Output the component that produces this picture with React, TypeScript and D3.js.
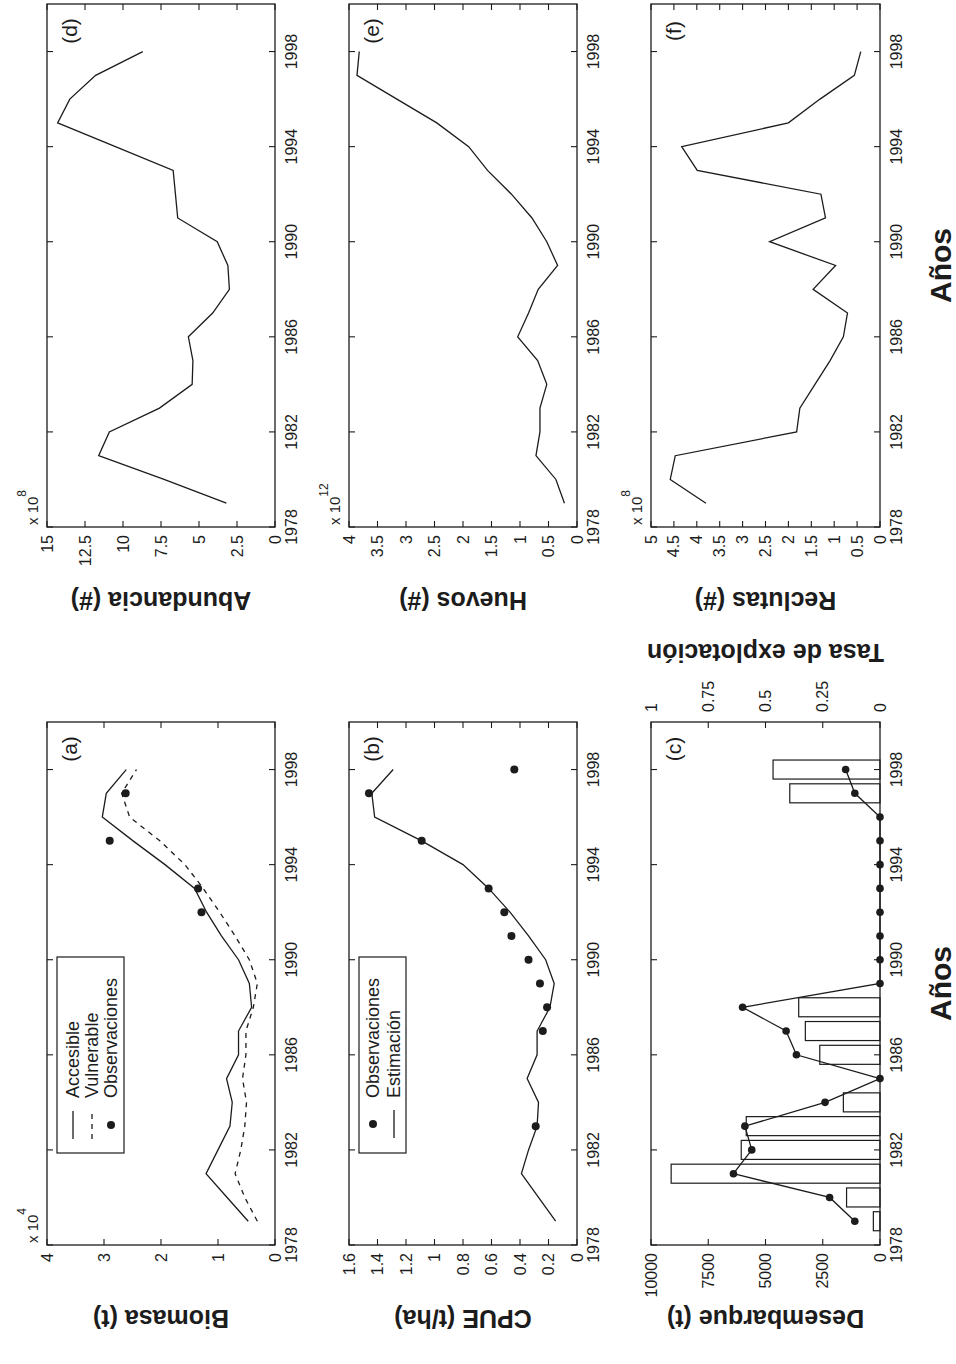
import React from "react";
import * as d3 from "d3";

// ---------------- data ----------------
const years = [1979, 1980, 1981, 1982, 1983, 1984, 1985, 1986, 1987, 1988, 1989, 1990, 1991, 1992, 1993, 1994, 1995, 1996, 1997, 1998];
const yearTicks = [1978, 1982, 1986, 1990, 1994, 1998];

// (a) Biomasa (x 10^4 t)
const biomasaAccesible = [0.47, 0.84, 1.21, 1.0, 0.79, 0.75, 0.85, 0.64, 0.64, 0.41, 0.45, 0.64, 0.94, 1.2, 1.41, 1.93, 2.49, 3.03, 2.96, 2.61];
const biomasaVulnerable = [0.31, 0.53, 0.7, 0.6, 0.53, 0.5, 0.57, 0.51, 0.51, 0.38, 0.31, 0.45, 0.7, 0.97, 1.26, 1.58, 2.02, 2.55, 2.69, 2.43];
const biomasaObsYears = [1992, 1993, 1995, 1997];
const biomasaObs = [1.29, 1.35, 2.9, 2.62];
const biomasaTicks = [0, 1, 2, 3, 4];

// (b) CPUE (t/ha)
const cpueEstimacion = [0.15, 0.27, 0.39, 0.34, 0.28, 0.27, 0.35, 0.28, 0.28, 0.19, 0.16, 0.22, 0.34, 0.47, 0.62, 0.8, 1.09, 1.42, 1.44, 1.29];
const cpueObsYears = [1983, 1987, 1988, 1989, 1990, 1991, 1992, 1993, 1995, 1997, 1998];
const cpueObs = [0.29, 0.24, 0.21, 0.26, 0.34, 0.46, 0.51, 0.62, 1.09, 1.46, 0.44];
const cpueTicks = [0, 0.2, 0.4, 0.6, 0.8, 1, 1.2, 1.4, 1.6];

// (c) Desembarque (t) and Tasa de explotación
const desembarque = [290, 1460, 9120, 6060, 5840, 1600, 0, 2630, 3260, 3550, 0, 0, 0, 0, 0, 0, 0, 0, 3940, 4670];
const tasaExplotacion = [0.11, 0.22, 0.64, 0.56, 0.59, 0.24, 0, 0.365, 0.41, 0.6, 0, 0, 0, 0, 0, 0, 0, 0, 0.11, 0.15];
const desembarqueTicks = [0, 2500, 5000, 7500, 10000];
const tasaTicks = [0, 0.25, 0.5, 0.75, 1];

// (d) Abundancia (x 10^8)
const abundancia = [3.2, 7.3, 11.6, 10.9, 7.6, 5.45, 5.4, 5.7, 4.1, 3.0, 3.1, 3.8, 6.4, 6.55, 6.7, 10.5, 14.3, 13.5, 11.8, 8.7];
const abundanciaTicks = [0, 2.5, 5, 7.5, 10, 12.5, 15];

// (e) Huevos (x 10^12)
const huevos = [0.22, 0.37, 0.72, 0.65, 0.65, 0.53, 0.69, 1.04, 0.85, 0.68, 0.34, 0.53, 0.79, 1.15, 1.57, 1.9, 2.46, 3.16, 3.86, 3.82];
const huevosTicks = [0, 0.5, 1, 1.5, 2, 2.5, 3, 3.5, 4];

// (f) Reclutas (x 10^8)
const reclutas = [3.8, 4.58, 4.47, 1.82, 1.75, 1.42, 1.09, 0.8, 0.71, 1.46, 0.97, 2.41, 1.19, 1.29, 3.99, 4.33, 2.0, 1.31, 0.56, 0.42];
const reclutasTicks = [0, 0.5, 1, 1.5, 2, 2.5, 3, 3.5, 4, 4.5, 5];

// ---------------- layout (unrotated figure) ----------------
const FIG_W = 1364;
const FONT = "'Liberation Sans', Arial, Helvetica, sans-serif";
const INK = "#1c1c1c";
const COLS: [number, number][] = [[119, 642], [837, 1360]];
const ROWS: [number, number][] = [[47, 275], [349, 577], [651, 880]];
const TICK = 6;

type Scales = { x: d3.ScaleLinear<number, number>; y: d3.ScaleLinear<number, number> };

function Frame(props: {
  col: number; row: number; yTicks: number[]; yMax: number; yLabel: string; tag: string; exp?: string;
  children: (s: Scales) => React.ReactNode;
}) {
  const [x0, x1] = COLS[props.col];
  const [y0, y1] = ROWS[props.row];
  const x = d3.scaleLinear().domain([1978, 2000]).range([x0, x1]);
  const y = d3.scaleLinear().domain([0, props.yMax]).range([y1, y0]);
  return (
    <g>
      {props.children({ x, y })}
      <rect x={x0} y={y0} width={x1 - x0} height={y1 - y0} fill="none" stroke={INK} strokeWidth={1.3} />
      {yearTicks.map((t) => (
        <g key={"xt" + t}>
          <line x1={x(t)} x2={x(t)} y1={y1} y2={y1 - TICK} stroke={INK} strokeWidth={1.1} />
          <line x1={x(t)} x2={x(t)} y1={y0} y2={y0 + TICK} stroke={INK} strokeWidth={1.1} />
          <text x={x(t)} y={y1 + 22} textAnchor="middle" fontSize={16} fontFamily={FONT} fill={INK}>{t}</text>
        </g>
      ))}
      {props.yTicks.map((t) => (
        <g key={"yt" + t}>
          <line x1={x0} x2={x0 + TICK} y1={y(t)} y2={y(t)} stroke={INK} strokeWidth={1.1} />
          <line x1={x1} x2={x1 - TICK} y1={y(t)} y2={y(t)} stroke={INK} strokeWidth={1.1} />
          <text x={x0 - 8} y={y(t)} textAnchor="end" dominantBaseline="central" fontSize={16} fontFamily={FONT} fill={INK}>{String(t)}</text>
        </g>
      ))}
      {props.exp && (
        <text x={x0 + 2} y={y0 - 9} fontSize={15} fontFamily={FONT} fill={INK}>
          x 10<tspan dy={-12} fontSize={12}>{props.exp}</tspan>
        </text>
      )}
      <text x={x1 - 27} y={y0 + 22} textAnchor="middle" dominantBaseline="central" fontSize={21} fontFamily={FONT} fill={INK}>{props.tag}</text>
      <text transform={`translate(${x0 - 74},${(y0 + y1) / 2}) rotate(-90)`} textAnchor="middle" dominantBaseline="central"
        fontSize={25} fontWeight="bold" fontFamily={FONT} fill={INK}>{props.yLabel}</text>
    </g>
  );
}

function seriesLine(s: Scales, vals: number[]) {
  const gen = d3.line<number>().x((_, i) => s.x(years[i])).y((v) => s.y(v));
  return gen(vals) || "";
}

export default function App() {
  const lw = 1.3;
  return (
    <svg width={956} height={1364} style={{ position: "absolute", left: 0, top: 0, background: "#fff" }}>
      <rect x={0} y={0} width={956} height={1364} fill="#fff" />
      <g transform={`translate(0,${FIG_W}) rotate(-90)`}>
        {/* (a) Biomasa */}
        <Frame col={0} row={0} yTicks={biomasaTicks} yMax={4} yLabel="Biomasa (t)" tag="(a)" exp="4">
          {(s) => (
            <g>
              <path d={seriesLine(s, biomasaAccesible)} fill="none" stroke={INK} strokeWidth={lw} />
              <path d={seriesLine(s, biomasaVulnerable)} fill="none" stroke={INK} strokeWidth={lw} strokeDasharray="5,5" />
              {biomasaObs.map((v, i) => (
                <circle key={i} cx={s.x(biomasaObsYears[i])} cy={s.y(v)} r={4} fill={INK} />
              ))}
              <rect x={211} y={57} width={196} height={67} fill="#fff" stroke={INK} strokeWidth={1.2} />
              <line x1={225} x2={253} y1={73} y2={73} stroke={INK} strokeWidth={lw} />
              <line x1={225} x2={253} y1={92} y2={92} stroke={INK} strokeWidth={lw} strokeDasharray="5,5" />
              <circle cx={239} cy={111} r={4} fill={INK} />
              <text x={266} y={73} dominantBaseline="central" fontSize={18} fontFamily={FONT} fill={INK}>Accesible</text>
              <text x={266} y={92} dominantBaseline="central" fontSize={18} fontFamily={FONT} fill={INK}>Vulnerable</text>
              <text x={266} y={111} dominantBaseline="central" fontSize={18} fontFamily={FONT} fill={INK}>Observaciones</text>
            </g>
          )}
        </Frame>

        {/* (b) CPUE */}
        <Frame col={0} row={1} yTicks={cpueTicks} yMax={1.6} yLabel="CPUE (t/ha)" tag="(b)">
          {(s) => (
            <g>
              <path d={seriesLine(s, cpueEstimacion)} fill="none" stroke={INK} strokeWidth={lw} />
              {cpueObs.map((v, i) => (
                <circle key={i} cx={s.x(cpueObsYears[i])} cy={s.y(v)} r={4} fill={INK} />
              ))}
              <rect x={211} y={359} width={196} height={47} fill="#fff" stroke={INK} strokeWidth={1.2} />
              <circle cx={240} cy={373} r={4} fill={INK} />
              <line x1={226} x2={254} y1={394} y2={394} stroke={INK} strokeWidth={lw} />
              <text x={266} y={373} dominantBaseline="central" fontSize={18} fontFamily={FONT} fill={INK}>Observaciones</text>
              <text x={266} y={394} dominantBaseline="central" fontSize={18} fontFamily={FONT} fill={INK}>Estimación</text>
            </g>
          )}
        </Frame>

        {/* (c) Desembarque + Tasa de explotación */}
        <Frame col={0} row={2} yTicks={desembarqueTicks} yMax={10000} yLabel="Desembarque (t)" tag="(c)">
          {(s) => {
            const yR = d3.scaleLinear().domain([0, 1]).range([ROWS[2][1], ROWS[2][0]]);
            const bw = s.x(1978.8) - s.x(1978);
            const tasaLine = d3.line<number>().x((_, i) => s.x(years[i])).y((v) => yR(v))(tasaExplotacion) || "";
            return (
              <g>
                {desembarque.map((v, i) => (
                  <rect key={i} x={s.x(years[i]) - bw / 2} y={s.y(v)} width={bw} height={s.y(0) - s.y(v)}
                    fill="#fff" stroke={INK} strokeWidth={1.2} />
                ))}
                <path d={tasaLine} fill="none" stroke={INK} strokeWidth={lw} />
                {tasaExplotacion.map((v, i) => (
                  <circle key={i} cx={s.x(years[i])} cy={yR(v)} r={3.8} fill={INK} />
                ))}
                {tasaTicks.map((t) => (
                  <text key={t} x={COLS[0][1] + 10} y={yR(t)} dominantBaseline="central" fontSize={16} fontFamily={FONT} fill={INK}>{String(t)}</text>
                ))}
                <text transform={`translate(${COLS[0][1] + 69},${(ROWS[2][0] + ROWS[2][1]) / 2}) rotate(-90)`} textAnchor="middle"
                  dominantBaseline="central" fontSize={25} fontWeight="bold" fontFamily={FONT} fill={INK}>Tasa de explotación</text>
              </g>
            );
          }}
        </Frame>

        {/* (d) Abundancia */}
        <Frame col={1} row={0} yTicks={abundanciaTicks} yMax={15} yLabel="Abundancia (#)" tag="(d)" exp="8">
          {(s) => <path d={seriesLine(s, abundancia)} fill="none" stroke={INK} strokeWidth={lw} />}
        </Frame>

        {/* (e) Huevos */}
        <Frame col={1} row={1} yTicks={huevosTicks} yMax={4} yLabel="Huevos (#)" tag="(e)" exp="12">
          {(s) => <path d={seriesLine(s, huevos)} fill="none" stroke={INK} strokeWidth={lw} />}
        </Frame>

        {/* (f) Reclutas */}
        <Frame col={1} row={2} yTicks={reclutasTicks} yMax={5} yLabel="Reclutas (#)" tag="(f)" exp="8">
          {(s) => <path d={seriesLine(s, reclutas)} fill="none" stroke={INK} strokeWidth={lw} />}
        </Frame>

        <text x={(COLS[0][0] + COLS[0][1]) / 2} y={951} textAnchor="middle" fontSize={30} fontWeight="bold" fontFamily={FONT} fill={INK}>Años</text>
        <text x={(COLS[1][0] + COLS[1][1]) / 2} y={951} textAnchor="middle" fontSize={30} fontWeight="bold" fontFamily={FONT} fill={INK}>Años</text>
      </g>
    </svg>
  );
}
